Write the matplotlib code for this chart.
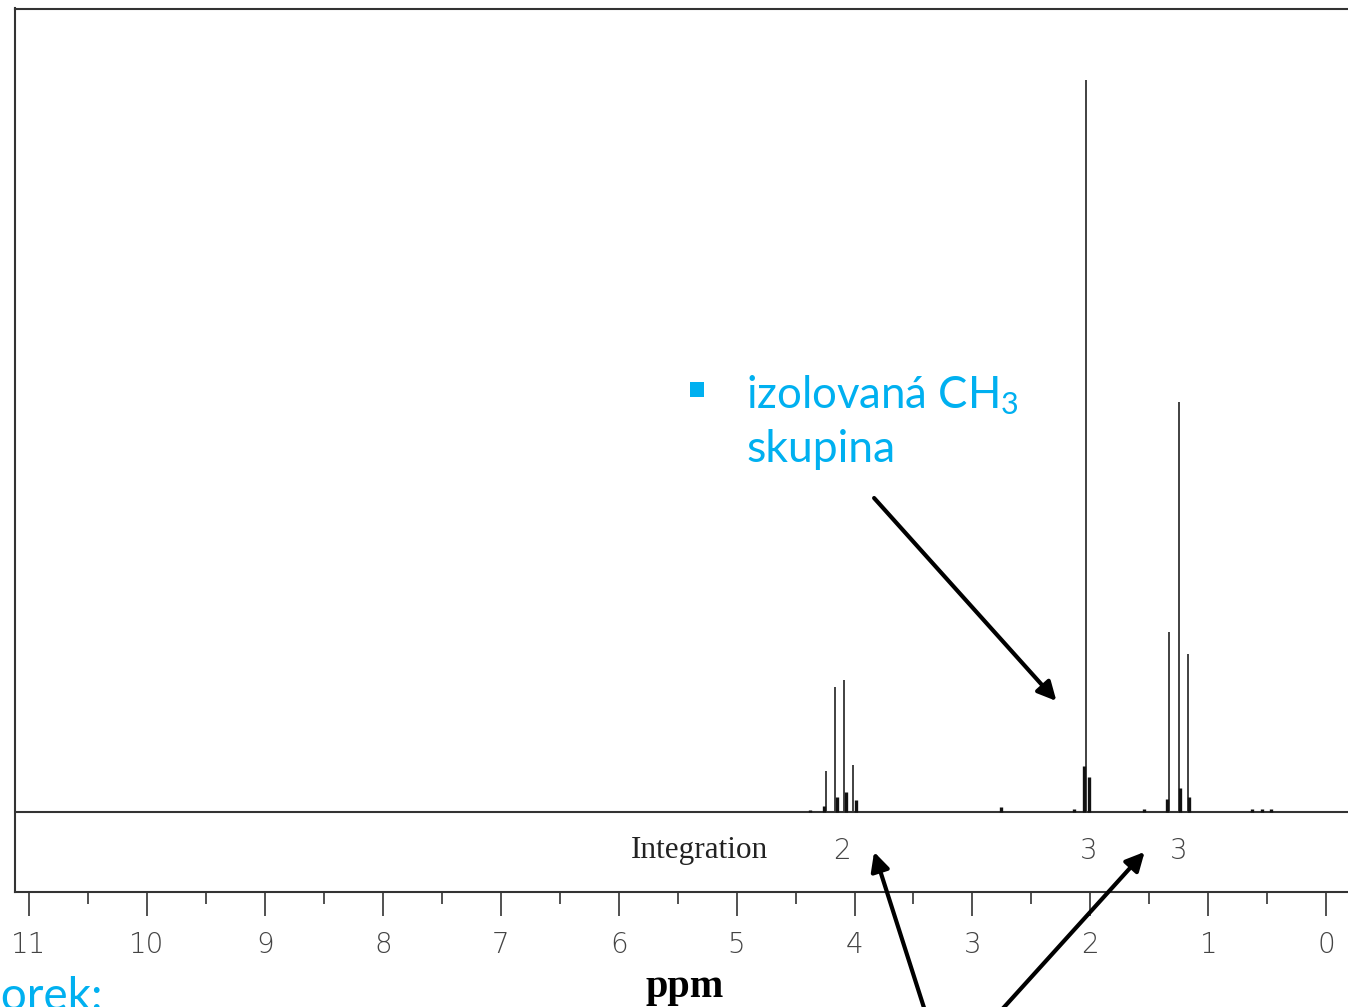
import numpy as np
import matplotlib
matplotlib.use("Agg")
import matplotlib.pyplot as plt
from matplotlib.patches import Rectangle

plt.rcParams.update({
    "mathtext.fontset": "custom",
    "mathtext.rm": "Lato",
    "mathtext.it": "Lato",
})

W, H = 1348, 1007

# main lines of the spectrum (ppm, relative intensity, tallest = 100)
peak_ppm = [4.245, 4.166, 4.087, 4.010, 2.036, 1.334, 1.252, 1.172]
peak_int = [5.5, 17.1, 18.0, 6.4, 100.0, 24.6, 56.0, 21.5]

# small humps at the foot of the lines and impurity blips
bump_ppm = [4.381, 4.260, 4.150, 4.075, 3.990, 2.758, 2.135, 2.050, 2.014,
            1.546, 1.351, 1.243, 1.164, 0.629, 0.549, 0.472]
bump_int = [0.3, 0.8, 2.0, 2.7, 1.6, 0.7, 0.4, 6.3, 4.8,
            0.4, 1.8, 3.3, 2.0, 0.4, 0.4, 0.4]

# integration row
integ_ppm = [4.108, 2.016, 1.251]
integ_val = ["2", "3", "3"]

major_ticks = list(range(0, 12))
minor_ticks = [0.5, 1.5, 2.5, 3.5, 4.5, 5.5, 6.5, 7.5, 8.5, 9.5, 10.5]

BLUE = "#00b0f0"
INK = "#333333"
NUM_FONT = ["DejaVu Sans"]


def fx(x):
    return x / W


def fy(y):
    return 1 - y / H


fig = plt.figure(figsize=(W / 100, H / 100), dpi=100)
ax = fig.add_axes([fx(15), fy(892), (1370 - 15) / W, (892 - 8.5) / H])
ax.set_xlim(11.119, -0.371)
ax.set_ylim(-10.97, 109.77)

for s in ("left", "top", "bottom", "right"):
    ax.spines[s].set_color(INK)
    ax.spines[s].set_linewidth(1.5)

ax.axhline(0, color=INK, lw=1.5, zorder=2)
ax.vlines(peak_ppm, 0, peak_int, color=INK, lw=1.3, zorder=3)
ax.vlines(bump_ppm, 0, bump_int, color="#111111", lw=2.4, zorder=3)

ax.set_yticks([])
ax.set_xticks(major_ticks)
ax.set_xticks(minor_ticks, minor=True)
ax.tick_params(axis="x", which="major", length=17, width=1.2, color=INK,
               pad=11, labelsize=20, labelcolor="#444444")
ax.tick_params(axis="x", which="minor", length=8.5, width=1.2, color=INK)
for lab in ax.get_xticklabels():
    lab.set_family(NUM_FONT)
    lab.set_fontweight("light")

ax.text(5.313, -5.3, "Integration", family="Liberation Serif", size=22.5,
        ha="center", va="center", color="#222222")
for x, v in zip(integ_ppm, integ_val):
    ax.text(x, -5.3, v, family=NUM_FONT, size=20, weight="light",
            ha="center", va="center", color="#444444")

fig.text(fx(684.5), fy(997), "ppm", family="Liberation Serif",
         weight="bold", size=29, ha="center", va="baseline")

# callout text
fig.add_artist(Rectangle((fx(690), fy(397)), 14 / W, 15 / H,
                         transform=fig.transFigure, color=BLUE, lw=0))
fig.text(fx(746), fy(408), "izolovaná CH$_3$", family="Lato", size=31.5,
         color=BLUE, va="baseline")
fig.text(fx(746), fy(462), "skupina", family="Lato", size=32,
         color=BLUE, va="baseline")
fig.text(fx(-50), fy(1010), "Vzorek:", family="Lato", size=33,
         color=BLUE, va="baseline")

arrow = dict(arrowstyle="-|>", lw=3, color="black", mutation_scale=28,
             shrinkA=0, shrinkB=0)
ax.annotate("", xy=(2.288, 15.13), xytext=(3.834, 42.87),
            arrowprops=arrow, annotation_clip=False)
ax.annotate("", xy=(3.834, -5.49), xytext=(3.359, -29.4),
            arrowprops=arrow, annotation_clip=False)
ax.annotate("", xy=(1.540, -5.49), xytext=(2.883, -29.4),
            arrowprops=arrow, annotation_clip=False)

fig.savefig("out.png", dpi=100)
